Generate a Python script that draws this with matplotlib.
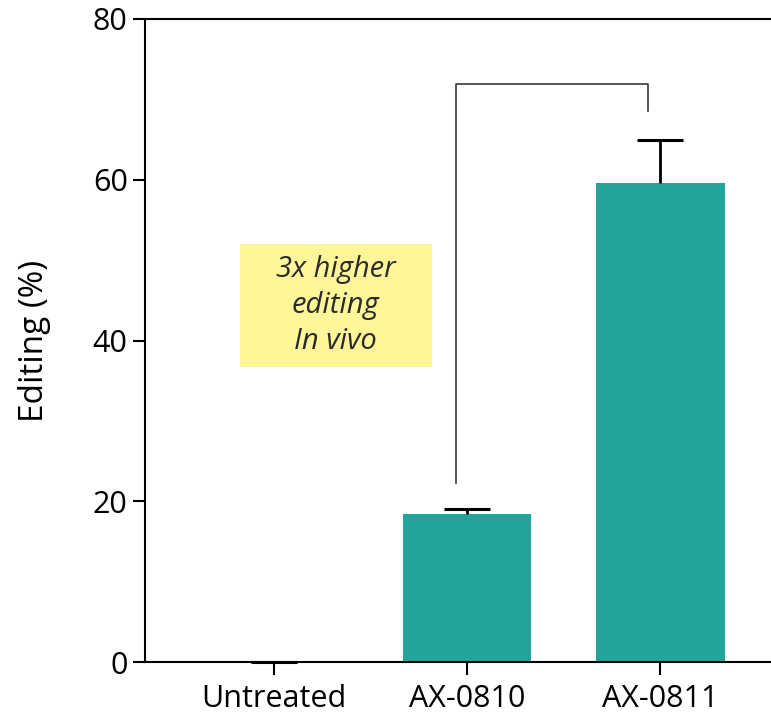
import matplotlib.pyplot as plt
from matplotlib.patches import Rectangle

categories = ['Untreated', 'AX-0810', 'AX-0811']
editing = [0.0, 18.4, 59.6]
errors = [0.0, 0.6, 5.3]
bar_color = '#22a49a'

plt.rcParams['font.family'] = ['Open Sans', 'DejaVu Sans']

fig = plt.figure(figsize=(7.71, 7.15), dpi=100)
ax = fig.add_axes([145 / 771, 53 / 715, 1 - 145 / 771, 643 / 715])

x = range(len(categories))
ax.bar(x, editing, width=0.667, color=bar_color, zorder=2)
eb = ax.errorbar(x, editing, yerr=[[0, 0, 0], errors], fmt='none', ecolor='black',
                 elinewidth=2, capsize=16.5, capthick=2.2, zorder=3)
# only the upper cap is drawn
eb[1][0].set_visible(False)
eb[1][1].set_clip_on(False)

# significance bracket
ax.plot([0.942, 0.942, 1.935, 1.935], [22.3, 71.9, 71.9, 68.6],
        color='#3a3a3a', lw=1.2, zorder=1)

# annotation box
ax.add_patch(Rectangle((-0.176, 36.7), 0.993, 15.3, facecolor='#fff599',
                       edgecolor='none', zorder=1))
ax.text(0.32, 44.4, '3x higher\nediting\nIn vivo', ha='center', va='center',
        style='italic', fontsize=21, color='#2b2b2b', linespacing=1.32)

ax.set_xlim(-0.667, 2.574)
ax.set_ylim(0, 80)
ax.set_yticks([0, 20, 40, 60, 80])
ax.set_xticks(list(x))
ax.set_xticklabels(categories)
ax.tick_params(axis='both', labelsize=22, width=1.5, length=9, color='black')
ax.tick_params(axis='x', pad=7)
ax.set_ylabel('Editing (%)', fontsize=24, labelpad=30)
ax.spines['right'].set_visible(False)
for s in ['left', 'bottom', 'top']:
    ax.spines[s].set_linewidth(1.5)

fig.savefig('out.png', dpi=100, facecolor='white')
